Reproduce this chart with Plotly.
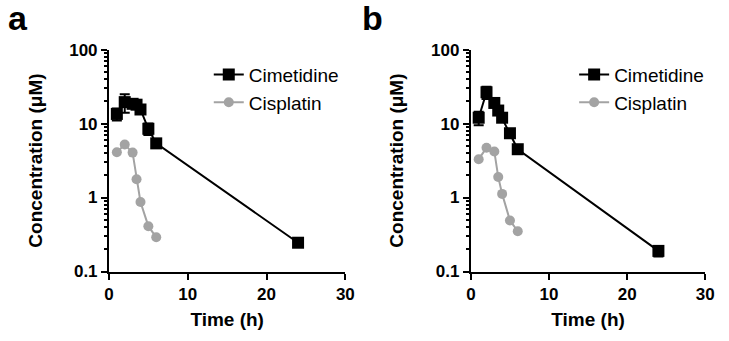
import plotly.graph_objects as go

time_cim = [1, 2, 3, 3.5, 4, 5, 6, 24]
time_cis = [1, 2, 3, 3.5, 4, 5, 6]

cim_a = [13.5, 19.5, 18.5, 18.0, 15.5, 8.5, 5.4, 0.245]
cim_a_err = [2.5, 5.5, 2.0, 2.0, 1.5, 1.5, 0.6, 0.025]
cis_a = [4.1, 5.2, 4.05, 1.77, 0.87, 0.41, 0.29]

cim_b = [12.0, 26.5, 19.0, 15.0, 12.0, 7.4, 4.5, 0.19]
cim_b_err = [2.5, 5.0, 1.5, 1.5, 1.5, 0.8, 0.4, 0.03]
cis_b = [3.3, 4.7, 4.2, 1.9, 1.12, 0.49, 0.35]

panels = ["a", "b"]
y_tickvals = [0.1, 1, 10, 100]
y_ticktext = ["0.1", "1", "10", "100"]
x_tickvals = [0, 10, 20, 30]

FONT = "Liberation Sans, Arial, sans-serif"
GRAY = "#a3a3a3"

fig = go.Figure()

datasets = [(cim_a, cim_a_err, cis_a), (cim_b, cim_b_err, cis_b)]
for i, (cim, err, cis) in enumerate(datasets):
    sfx = "" if i == 0 else str(i + 1)
    leg = "legend" if i == 0 else "legend2"
    fig.add_trace(go.Scatter(
        x=time_cis, y=cis, mode="lines+markers", name="Cisplatin",
        line=dict(color=GRAY, width=2),
        marker=dict(symbol="circle", size=10, color=GRAY),
        xaxis="x" + sfx, yaxis="y" + sfx, legend=leg, cliponaxis=False,
    ))
    fig.add_trace(go.Scatter(
        x=time_cim, y=cim, mode="lines+markers", name="Cimetidine",
        line=dict(color="black", width=2),
        marker=dict(symbol="square", size=12, color="black"),
        error_y=dict(type="data", array=err, visible=True, color="black",
                     thickness=2, width=5),
        xaxis="x" + sfx, yaxis="y" + sfx, legend=leg, cliponaxis=False,
    ))

minor_vals = [k * 10 ** e for e in (-1, 0, 1) for k in range(2, 10)]

xdoms = [[106 / 729, 347 / 729], [475 / 729, 714 / 729]]
ydom = [1 - 278 / 341, 1 - 43 / 341]

layout = dict(
    width=729, height=341,
    margin=dict(l=0, r=0, t=0, b=0),
    paper_bgcolor="white", plot_bgcolor="white",
    font=dict(family=FONT, color="black"),
    showlegend=True,
)

for i in range(2):
    sfx = "" if i == 0 else str(i + 1)
    layout["xaxis" + sfx] = dict(
        domain=xdoms[i], range=[0, 30], anchor="y" + sfx,
        showline=True, linecolor="black", linewidth=2, mirror=False,
        showgrid=False, zeroline=False,
        ticks="outside", ticklen=6, tickwidth=2, tickcolor="black",
        tickvals=x_tickvals,
        tickfont=dict(family=FONT, size=17, color="black", weight="bold"),
        title=dict(text="Time (h)", font=dict(family=FONT, size=19, color="black", weight="bold"), standoff=10),
    )
    layout["yaxis" + sfx] = dict(
        domain=ydom, type="log", range=[-1, 2], anchor="x" + sfx,
        showline=True, linecolor="black", linewidth=2,
        showgrid=False, zeroline=False,
        ticks="outside", ticklen=6, tickwidth=2, tickcolor="black",
        tickvals=y_tickvals, ticktext=y_ticktext,
        minor=dict(tickvals=minor_vals, ticks="outside", ticklen=3, tickwidth=1.5, tickcolor="black", showgrid=False),
        tickfont=dict(family=FONT, size=17, color="black", weight="bold"),
        title=dict(text="Concentration (μM)", font=dict(family=FONT, size=19, color="black", weight="bold"), standoff=22),
    )

layout["legend"] = dict(x=0.285, y=0.855, xanchor="left", yanchor="top",
                        bgcolor="rgba(0,0,0,0)", borderwidth=0,
                        font=dict(family=FONT, size=19, color="black"),
                        traceorder="reversed", itemwidth=30)
layout["legend2"] = dict(x=0.796, y=0.855, xanchor="left", yanchor="top",
                         bgcolor="rgba(0,0,0,0)", borderwidth=0,
                         font=dict(family=FONT, size=19, color="black"),
                         traceorder="reversed", itemwidth=30)

layout["annotations"] = [
    dict(text="<b>%s</b>" % panels[0], x=13 / 729, y=1 - 10 / 341, xref="paper", yref="paper",
         showarrow=False, font=dict(family=FONT, size=34, color="black"), xanchor="center", yanchor="middle"),
    dict(text="<b>%s</b>" % panels[1], x=375 / 729, y=1 - 10 / 341, xref="paper", yref="paper",
         showarrow=False, font=dict(family=FONT, size=34, color="black"), xanchor="center", yanchor="middle"),
]

fig.update_layout(**layout)
fig.write_html("out.html")
